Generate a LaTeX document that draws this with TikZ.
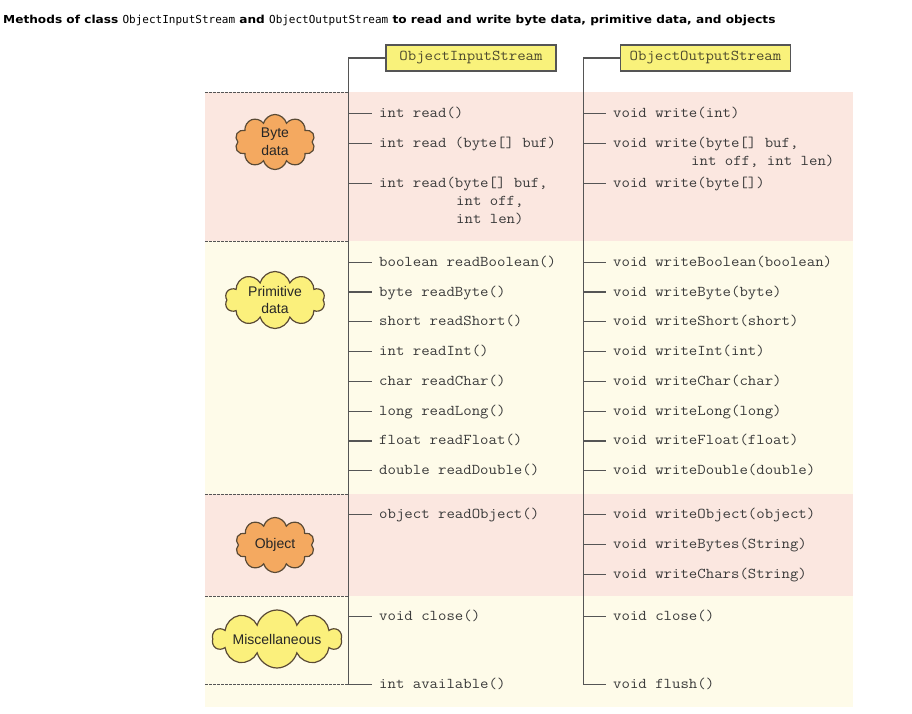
\documentclass[tikz,border=0pt]{standalone}
\usepackage{fontspec}
\setmainfont{Liberation Sans}
\setmonofont[FakeStretch=1.09]{Latin Modern Mono}
\newfontfamily\titlefont[FakeStretch=1.104]{DejaVu Sans}
\newfontfamily\titlemono{DejaVu Sans Mono}
\usepackage{tikz}
\usetikzlibrary{shapes.symbols,positioning}
\definecolor{bandpink}{HTML}{FBE7E0}
\definecolor{bandyellow}{HTML}{FEFBE9}
\definecolor{puffor}{HTML}{F4A960}
\definecolor{puffye}{HTML}{FBF07C}
\definecolor{headye}{HTML}{F9F27B}
\definecolor{linegray}{HTML}{555555}
\definecolor{txtgray}{HTML}{3A3A3A}
\definecolor{headtxt}{HTML}{4D4A2E}
\definecolor{puffline}{HTML}{5A4A35}

\begin{document}
\begin{tikzpicture}[x=1pt,y=-1pt,
  meth/.style={anchor=west,inner xsep=7pt,inner ysep=0pt,text height=9pt,text depth=1pt,
    font=\fontsize{15}{18}\selectfont\ttfamily,text=txtgray},
  head/.style={draw=linegray,fill=headye,line width=1.1pt,minimum width=170pt,minimum height=26pt,
    inner sep=0pt,font=\fontsize{15}{18}\selectfont\ttfamily,text=headtxt},
  puff/.style={cloud,cloud puffs=10,cloud ignores aspect,draw=puffline,line width=1.2pt,
    align=center,inner sep=0pt,font=\fontsize{14}{17.7}\selectfont,text=black!85},
  tickline/.style={draw=linegray,line width=1.3pt},
  sepline/.style={draw=linegray,dash pattern=on 2.5pt off 1.5pt,line width=1pt}]
  \useasboundingbox (0,0) rectangle (912,714);
  \node[anchor=base west,inner sep=0pt,font=\fontsize{11}{13}\selectfont\titlefont\bfseries] (title) at (3,24)
    {Methods of class {\titlemono\mdseries ObjectInputStream} and {\titlemono\mdseries ObjectOutputStream} to read and write byte data, primitive data, and objects};
  \fill[bandpink] (205,92) rectangle (853,241);
  \fill[bandyellow] (205,241) rectangle (853,494);
  \fill[bandpink] (205,494) rectangle (853,596);
  \fill[bandyellow] (205,596) rectangle (853,707);
  \draw[sepline] (205,92.5) -- (348.3,92.5);
  \draw[sepline] (205,241.5) -- (348.3,241.5);
  \draw[sepline] (205,494) -- (348.3,494);
  \draw[sepline] (205,596) -- (348.3,596);
  \draw[sepline] (205,684.5) -- (348.3,684.5);
  \node[puff,fill=puffor,minimum width=80pt,minimum height=55pt] (bytecl) at (275,142) {Byte\\data};
  \node[puff,fill=puffye,minimum width=100pt,minimum height=57pt] (primcl) at (275,300) {Primitive\\data};
  \node[puff,fill=puffor,minimum width=79pt,minimum height=55pt] (objcl) at (275,545) {Object};
  \node[puff,fill=puffye,minimum width=129pt,minimum height=58pt] (misccl) at (277,639) {Miscellaneous};
  \node[head] (inhead) at (471,58) {ObjectInputStream};
  \node[head] (outhead) at (705.5,58) {ObjectOutputStream};
  \coordinate (inL) at (348.3,0);
  \coordinate (outL) at (583.7,0);
  \node[meth] (rd1) at (372,113.3) {int read()};
  \node[meth] (rd2) at (372,143.3) {int read (byte[] buf)};
  \node[meth] (rd3) at (372,183.3) {int read(byte[] buf,};
  \node[meth] (rd3b) at (449,201.3) {int off,};
  \node[meth] (rd3c) at (449,219.3) {int len)};
  \node[meth] (rdbool) at (372,262.3) {boolean readBoolean()};
  \node[meth] (rdbyte) at (372,292) {byte readByte()};
  \node[meth] (rdshort) at (372,321.8) {short readShort()};
  \node[meth] (rdint) at (372,351.6) {int readInt()};
  \node[meth] (rdchar) at (372,381.4) {char readChar()};
  \node[meth] (rdlong) at (372,411.2) {long readLong()};
  \node[meth] (rdfloat) at (372,440.9) {float readFloat()};
  \node[meth] (rddouble) at (372,470.7) {double readDouble()};
  \node[meth] (rdobj) at (372,514.5) {object readObject()};
  \node[meth] (rdclose) at (372,616.7) {void close()};
  \node[meth] (rdavail) at (372,684.5) {int available()};
  \node[meth] (wr1) at (606,113.3) {void write(int)};
  \node[meth] (wr2) at (606,143.3) {void write(byte[] buf,};
  \node[meth] (wr2b) at (684,161.3) {int off, int len)};
  \node[meth] (wr3) at (606,183.3) {void write(byte[])};
  \node[meth] (wrbool) at (606,262.3) {void writeBoolean(boolean)};
  \node[meth] (wrbyte) at (606,292) {void writeByte(byte)};
  \node[meth] (wrshort) at (606,321.8) {void writeShort(short)};
  \node[meth] (wrint) at (606,351.6) {void writeInt(int)};
  \node[meth] (wrchar) at (606,381.4) {void writeChar(char)};
  \node[meth] (wrlong) at (606,411.2) {void writeLong(long)};
  \node[meth] (wrfloat) at (606,440.9) {void writeFloat(float)};
  \node[meth] (wrdouble) at (606,470.7) {void writeDouble(double)};
  \node[meth] (wrobj) at (606,514.5) {void writeObject(object)};
  \node[meth] (wrbytes) at (606,544.5) {void writeBytes(String)};
  \node[meth] (wrchars) at (606,574.5) {void writeChars(String)};
  \node[meth] (wrclose) at (606,616.7) {void close()};
  \node[meth] (wrflush) at (606,684.5) {void flush()};
  \draw[tickline] (inhead.west) -| (inL |- rdavail.west) -- (rdavail.west);
  \draw[tickline] (outhead.west) -| (outL |- wrflush.west) -- (wrflush.west);
  \draw[tickline] (inL |- rd1.west) -- (rd1.west);
  \draw[tickline] (inL |- rd2.west) -- (rd2.west);
  \draw[tickline] (inL |- rd3.west) -- (rd3.west);
  \draw[tickline] (inL |- rdbool.west) -- (rdbool.west);
  \draw[tickline] (inL |- rdbyte.west) -- (rdbyte.west);
  \draw[tickline] (inL |- rdshort.west) -- (rdshort.west);
  \draw[tickline] (inL |- rdint.west) -- (rdint.west);
  \draw[tickline] (inL |- rdchar.west) -- (rdchar.west);
  \draw[tickline] (inL |- rdlong.west) -- (rdlong.west);
  \draw[tickline] (inL |- rdfloat.west) -- (rdfloat.west);
  \draw[tickline] (inL |- rddouble.west) -- (rddouble.west);
  \draw[tickline] (inL |- rdobj.west) -- (rdobj.west);
  \draw[tickline] (inL |- rdclose.west) -- (rdclose.west);
  \draw[tickline] (outL |- wr1.west) -- (wr1.west);
  \draw[tickline] (outL |- wr2.west) -- (wr2.west);
  \draw[tickline] (outL |- wr3.west) -- (wr3.west);
  \draw[tickline] (outL |- wrbool.west) -- (wrbool.west);
  \draw[tickline] (outL |- wrbyte.west) -- (wrbyte.west);
  \draw[tickline] (outL |- wrshort.west) -- (wrshort.west);
  \draw[tickline] (outL |- wrint.west) -- (wrint.west);
  \draw[tickline] (outL |- wrchar.west) -- (wrchar.west);
  \draw[tickline] (outL |- wrlong.west) -- (wrlong.west);
  \draw[tickline] (outL |- wrfloat.west) -- (wrfloat.west);
  \draw[tickline] (outL |- wrdouble.west) -- (wrdouble.west);
  \draw[tickline] (outL |- wrobj.west) -- (wrobj.west);
  \draw[tickline] (outL |- wrbytes.west) -- (wrbytes.west);
  \draw[tickline] (outL |- wrchars.west) -- (wrchars.west);
  \draw[tickline] (outL |- wrclose.west) -- (wrclose.west);
\end{tikzpicture}
\end{document}
